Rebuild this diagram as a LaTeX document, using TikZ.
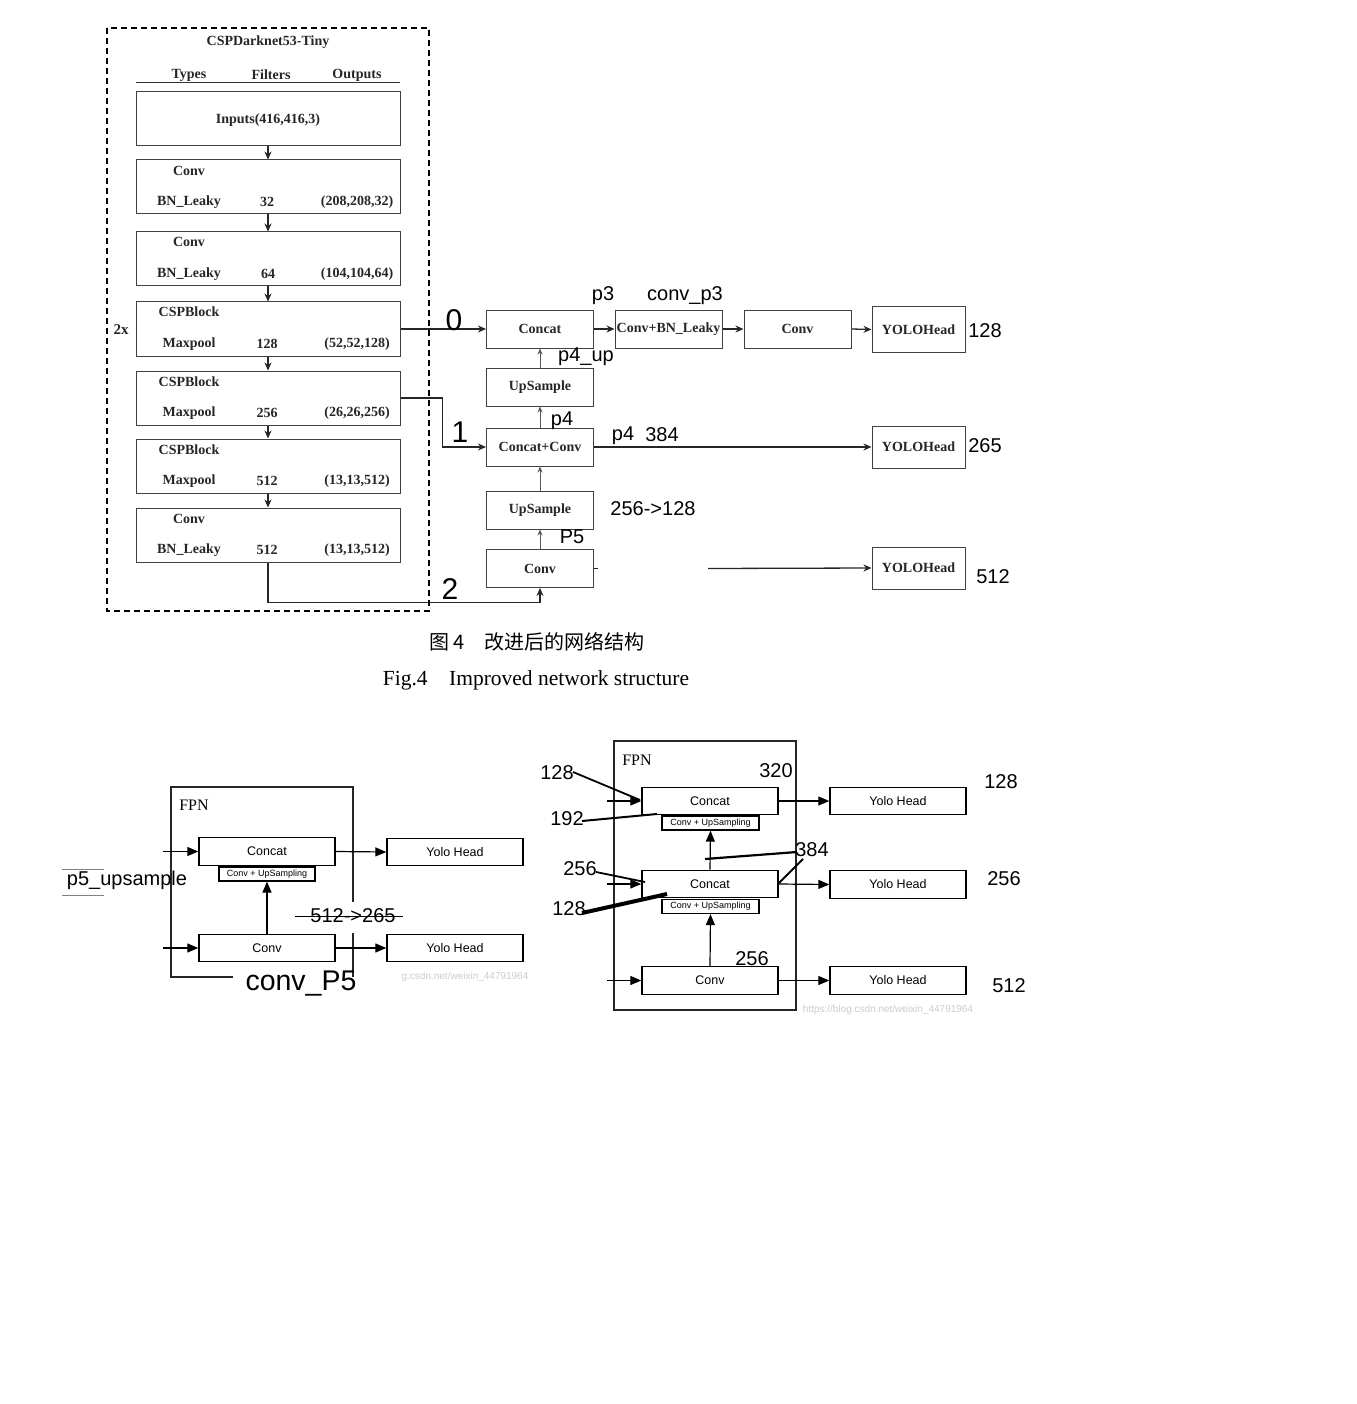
\documentclass[tikz,border=0pt]{standalone}
\usepackage{fontspec}
\setmainfont{Liberation Serif}
\setsansfont{Liberation Sans}
\newfontfamily\cjk{Noto Sans CJK SC}
\usetikzlibrary{arrows.meta}
\begin{document}
\begin{tikzpicture}[x=1pt,y=-1pt,
  bb/.style={draw=black!75, line width=1pt, minimum width=264pt, minimum height=54pt, inner sep=0pt},
  bt/.style={font=\fontsize{14}{15}\selectfont\bfseries, inner sep=0pt, text=black!85},
  rb/.style={draw=black!75, line width=1pt, minimum width=107pt, minimum height=38pt, inner sep=0pt, font=\fontsize{14}{15}\selectfont\bfseries, text=black!85},
  yh/.style={rb, minimum width=93pt, minimum height=42pt},
  lbl/.style={font=\sffamily\fontsize{20}{22}\selectfont, inner sep=0pt},
  big/.style={font=\sffamily\fontsize{30}{32}\selectfont, inner sep=0pt},
  arr/.style={-{Stealth[length=8pt,width=7pt]}, line width=1.3pt, draw=black!85},
  varr/.style={-{Stealth[length=6pt,width=5pt]}, line width=0.8pt, draw=black!65},
  fb/.style={draw, line width=1.4pt, minimum width=136pt, minimum height=27.5pt, inner sep=0pt, font=\sffamily\fontsize{12.5}{14}\selectfont},
  sb/.style={draw, line width=1.2pt, minimum width=96pt, minimum height=14pt, inner sep=0pt, font=\sffamily\fontsize{9}{10}\selectfont},
  barr/.style={-{Triangle[length=11pt,width=9pt]}, line width=1.2pt},
  wm/.style={font=\sffamily\fontsize{10}{11}\selectfont, text=black!20, inner sep=0pt}
]
\useasboundingbox (0,0) rectangle (1356,1404);
\fill[white] (0,0) rectangle (1356,1404);

% ---------------- backbone ----------------
\draw[line width=1.8pt, dash pattern=on 6pt off 4pt] (107,28) rectangle (429,611);
\node[bt] (title) at (268,42) {CSPDarknet53-Tiny};
\node[bt] (hT) at (189,75) {Types};
\node[bt] (hF) at (271,75) {Filters};
\node[bt] (hO) at (357,75) {Outputs};
\draw[line width=0.9pt, black!80] (136,82) -- (400,82);

\node[bb] (in) at (268,119) {};
\node[bt] at (268,120) {Inputs(416,416,3)};

\node[bb] (c1) at (268,187) {};
\node[bt] at (189,171) {Conv};
\node[bt] at (189,202) {BN\_Leaky};
\node[bt] at (267,202) {32};
\node[bt] at (357,202) {(208,208,32)};

\node[bb] (c2) at (268,259) {};
\node[bt] at (189,242) {Conv};
\node[bt] at (189,274) {BN\_Leaky};
\node[bt] at (268,274) {64};
\node[bt] at (357,274) {(104,104,64)};

\node[bb] (k1) at (268,329) {};
\node[bt] at (189,312) {CSPBlock};
\node[bt] at (189,344) {Maxpool};
\node[bt] at (267,344) {128};
\node[bt] at (357,344) {(52,52,128)};
\node[bt, font=\fontsize{15}{16}\selectfont\bfseries] (twox) at (121,330) {2x};

\node[bb] (k2) at (268,398) {};
\node[bt] at (189,382) {CSPBlock};
\node[bt] at (189,413) {Maxpool};
\node[bt] at (267,413) {256};
\node[bt] at (357,413) {(26,26,256)};

\node[bb] (k3) at (268,466) {};
\node[bt] at (189,450) {CSPBlock};
\node[bt] at (189,481) {Maxpool};
\node[bt] at (267,481) {512};
\node[bt] at (357,481) {(13,13,512)};

\node[bb] (c3) at (268,535) {};
\node[bt] at (189,519) {Conv};
\node[bt] at (189,550) {BN\_Leaky};
\node[bt] at (267,550) {512};
\node[bt] at (357,550) {(13,13,512)};

\draw[arr] (in.south) -- (c1.north);
\draw[arr] (c1.south) -- (c2.north);
\draw[arr] (c2.south) -- (k1.north);
\draw[arr] (k1.south) -- (k2.north);
\draw[arr] (k2.south) -- (k3.north);
\draw[arr] (k3.south) -- (c3.north);

% ---------------- neck / head ----------------
\node[rb] (cat) at (540,329) {Concat};
\node[rb] (up1) at (540,387) {UpSample};
\node[rb] (cc) at (540,447) {Concat+Conv};
\node[rb] (up2) at (540,510) {UpSample};
\node[rb] (cv) at (540,568.5) {Conv};
\node[rb] (cbl) at (668.5,329) {Conv+BN\_Leaky};
\node[rb] (cv2) at (797.5,329) {Conv};
\node[yh, minimum height=45pt] (y1) at (918.5,329.5) {YOLOHead};
\node[yh] (y2) at (918.5,447) {YOLOHead};
\node[yh] (y3) at (918.5,568) {YOLOHead};

\draw[arr] (k1.east) -- (cat.west);
\draw[arr] (k2.east) -- ++(42,0) |- (cc.west);
\draw[arr] (c3.south) -- ++(0,40) -| (cv.south);

\draw[varr] (up1.north) -- (cat.south);
\draw[varr] (cc.north) -- (up1.south);
\draw[varr] (up2.north) -- (cc.south);
\draw[varr] (cv.north) -- (up2.south);

\draw[arr] (cat.east) -- (cbl.west);
\draw[arr] (cbl.east) -- (cv2.west);
\draw[arr] (cv2.east) -- (y1.west);
\draw[arr] (cc.east) -- (y2.west);
\coordinate (gapA) at (598,568.5);
\coordinate (gapB) at (708,568.5);
\draw[line width=1.3pt, black!85] (cv.east) -- (gapA);
\draw[arr] (gapB) -- (y3.west);

\node[big] (l0) at (454,320) {0};
\node[big] (l1) at (460,432) {1};
\node[big] (l2) at (450,589) {2};
\node[lbl] at (603,296) {p3};
\node[lbl] at (685,296) {conv\_p3};
\node[lbl] at (586,357) {p4\_up};
\node[lbl] at (562,421) {p4};
\node[lbl] at (623,436) {p4};
\node[lbl] at (662,435) {384};
\node[lbl] at (985,331) {128};
\node[lbl] at (985,446) {265};
\node[lbl] at (653,509) {256->128};
\node[lbl] at (572,537) {P5};
\node[lbl] at (993,577) {512};

\node[font=\cjk\fontsize{20}{22}\selectfont, inner sep=0pt] (cap1) at (537,642) {图 4\hspace{1em}改进后的网络结构};
\node[font=\fontsize{21.5}{24}\selectfont, inner sep=0pt] (cap2) at (536,680) {Fig.4\hspace{1em}Improved network structure};

% ---------------- bottom-left FPN ----------------
\draw[line width=1.2pt, black!85] (233,977) -- (171,977) -- (171,787) -- (353,787) -- (353,902);
\draw[line width=1.2pt, black!85] (353,933) -- (353,977);
\node[font=\fontsize{16}{18}\selectfont, inner sep=0pt] at (194,805) {FPN};
\node[fb] (bcat) at (267,851.5) {Concat};
\node[sb] (bup) at (267,874) {Conv + UpSampling};
\node[fb] (bconv) at (267,948) {Conv};
\node[fb] (byh1) at (455,852) {Yolo Head};
\node[fb] (byh2) at (455,948) {Yolo Head};
\coordinate (bin1) at (163,851.5);
\coordinate (bin2) at (163,948);
\draw[barr] (bin1) -- (bcat.west);
\draw[barr] (bin2) -- (bconv.west);
\draw[barr] (bcat.east) -- (byh1.west);
\draw[barr] (bconv.east) -- (byh2.west);
\draw[barr] (bconv.north) -- (bup.south);
\draw[black!50, line width=0.8pt] (62,869) -- (104,869);
\draw[black!50, line width=0.8pt] (62,895) -- (104,895);
\node[lbl] at (127,880) {p5\_upsample};
\node[lbl] at (353,916) {512->265};
\draw[line width=1pt] (295,916) -- (403,916);
\node[font=\sffamily\fontsize{28.5}{30}\selectfont, inner sep=0pt] at (301,984) {conv\_P5};
\node[wm] at (465,977) {g.csdn.net/weixin\_44791964};

% ---------------- bottom-right FPN ----------------
\draw[line width=1.2pt, black!85] (614,741) rectangle (796,1010);
\node[font=\fontsize{16}{18}\selectfont, inner sep=0pt] at (637,760) {FPN};
\node[fb] (rcat1) at (710,801) {Concat};
\node[sb, minimum width=97pt] (rup1) at (710.5,823) {Conv + UpSampling};
\node[fb] (rcat2) at (710,884) {Concat};
\node[sb, minimum width=97pt] (rup2) at (710.5,906.5) {Conv + UpSampling};
\node[fb] (rconv) at (710,980.5) {Conv};
\node[fb] (ryh1) at (898,801) {Yolo Head};
\node[fb] (ryh2) at (898,884.5) {Yolo Head};
\node[fb] (ryh3) at (898,980.5) {Yolo Head};
\coordinate (rin1) at (607,801);
\coordinate (rin2) at (607,884);
\coordinate (rin3) at (607,980.5);
\draw[barr] (rin1) -- (rcat1.west);
\draw[barr] (rin2) -- (rcat2.west);
\draw[barr] (rin3) -- (rconv.west);
\draw[barr] (rcat1.east) -- (ryh1.west);
\draw[barr] (rcat2.east) -- (ryh2.west);
\draw[barr] (rconv.east) -- (ryh3.west);
\draw[barr] (rcat2.north) -- (rup1.south);
\draw[barr] (rconv.north) -- (rup2.south);

% hand-drawn annotations
\node[lbl] (n128a) at (557,773) {128};
\node[lbl] (n192) at (567,819) {192};
\node[lbl] (n256a) at (580,869) {256};
\node[lbl] (n128b) at (569,909) {128};
\node[lbl] (n320) at (776,771) {320};
\node[lbl] (n384) at (812,850) {384};
\node[lbl] (n256b) at (752,959) {256};
\node[lbl] at (1001,782) {128};
\node[lbl] at (1004,879) {256};
\node[lbl] at (1009,986) {512};
\draw[line width=1.8pt] (573,772) -- (640,800);
\draw[line width=2pt] (582,821) -- (657,814);
\draw[line width=1.8pt] (596,872) -- (645,882);
\draw[line width=4pt] (582,913) -- (667,894);
\draw[line width=2.2pt] (705,859) -- (797,852);
\draw[line width=2pt] (803,859) -- (779,883);
\node[wm] at (888,1010) {https://blog.csdn.net/weixin\_44791964};
\end{tikzpicture}
\end{document}
